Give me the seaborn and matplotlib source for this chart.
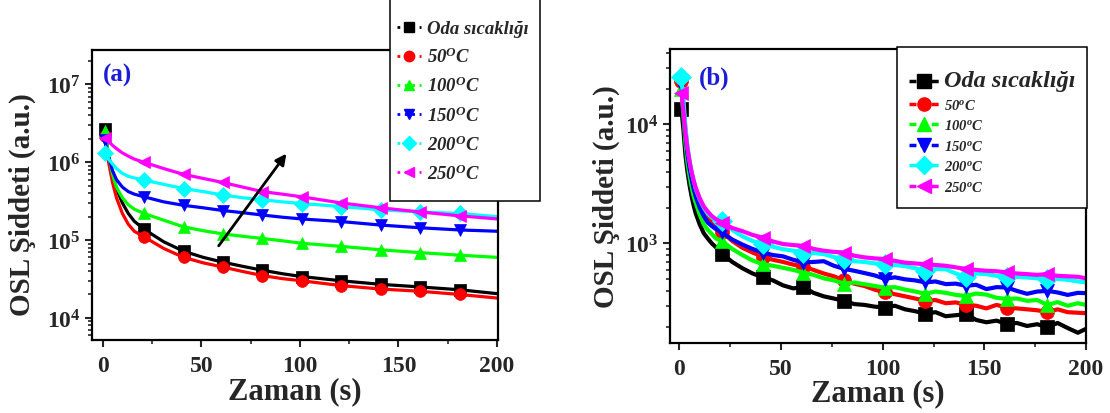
import numpy as np
import pandas as pd
import matplotlib
matplotlib.use('Agg')
import matplotlib.pyplot as plt
import seaborn as sns
from matplotlib.lines import Line2D
from matplotlib.patches import Rectangle
from matplotlib.ticker import MultipleLocator, LogLocator, FuncFormatter, NullFormatter

sns.set_style('ticks')
plt.rcParams['font.family'] = ['Liberation Serif', 'DejaVu Serif']
plt.rcParams['font.weight'] = 'bold'
plt.rcParams['axes.labelweight'] = 'bold'
plt.rcParams['mathtext.fontset'] = 'custom'
plt.rcParams['mathtext.rm'] = 'Liberation Serif:bold'
plt.rcParams['mathtext.bf'] = 'Liberation Serif:bold'
plt.rcParams['mathtext.it'] = 'Liberation Serif:bold:italic'

# ---- panel (a): fitted decay curves ----
time_a = [1, 3, 5, 7, 10, 13, 16, 21, 31, 41, 51, 61, 71, 81, 91, 101, 121, 141, 161, 181, 200]
oda_a = [2.7e6, 1.2e6, 7.0e5, 4.6e5, 3.0e5, 2.2e5, 1.75e5, 1.38e5, 9.5e4, 7.2e4, 6.0e4, 5.2e4, 4.6e4,
         4.1e4, 3.7e4, 3.4e4, 3.0e4, 2.7e4, 2.5e4, 2.3e4, 2.05e4]
c50_a = [2.2e6, 1.0e6, 5.5e5, 3.5e5, 2.2e5, 1.6e5, 1.3e5, 1.1e5, 7.8e4, 6.0e4, 5.1e4, 4.5e4, 3.95e4,
         3.5e4, 3.2e4, 3.0e4, 2.6e4, 2.35e4, 2.2e4, 2.0e4, 1.8e4]
c100_a = [2.5e6, 1.25e6, 7.0e5, 4.8e5, 3.5e5, 2.85e5, 2.5e5, 2.2e5, 1.8e5, 1.48e5, 1.32e5, 1.2e5, 1.12e5,
          1.05e5, 9.8e4, 9.1e4, 8.3e4, 7.5e4, 6.9e4, 6.4e4, 6.0e4]
c150_a = [1.95e6, 1.2e6, 7.8e5, 6.0e5, 4.8e5, 4.2e5, 3.9e5, 3.6e5, 3.1e5, 2.8e5, 2.6e5, 2.4e5, 2.25e5,
          2.1e5, 1.97e5, 1.87e5, 1.73e5, 1.56e5, 1.44e5, 1.35e5, 1.3e5]
c200_a = [1.3e6, 1.1e6, 9.5e5, 8.3e5, 7.2e5, 6.6e5, 6.3e5, 5.9e5, 5.2e5, 4.6e5, 4.2e5, 3.8e5, 3.5e5,
          3.3e5, 3.1e5, 2.95e5, 2.7e5, 2.45e5, 2.3e5, 2.2e5, 2.0e5]
c250_a = [2.05e6, 1.85e6, 1.65e6, 1.5e6, 1.32e6, 1.2e6, 1.1e6, 1.0e6, 8.3e5, 7.0e5, 6.2e5, 5.5e5, 4.8e5,
          4.2e5, 3.9e5, 3.6e5, 3.0e5, 2.6e5, 2.3e5, 2.05e5, 1.87e5]

# ---- panel (b): measured (noisy) decay curves ----
time_b = [1, 2, 3, 4, 5, 6, 7, 8, 10, 12, 14, 16, 18,
          21, 26, 31, 36, 41, 46, 51, 56, 61, 66, 71, 76, 81, 86, 91, 96, 101, 106, 111, 116,
          121, 126, 131, 136, 141, 146, 151, 156, 161, 166, 171, 176, 181, 186, 191, 196, 200]
oda_b = [1.36e4, 9.0e3, 5.5e3, 4.0e3, 3.1e3, 2.5e3, 2.1e3, 1.8e3, 1.45e3, 1.22e3, 1.1e3, 1.0e3, 930,
         820, 700, 620, 560, 520, 490, 445, 420, 430, 385, 360, 345, 330, 310, 305, 295, 290, 300,
         280, 270, 257, 265, 245, 250, 255, 228, 218, 225, 211, 215, 203, 210, 198, 215, 195, 178, 192]
c50_b = [2.3e4, 1.5e4, 9.0e3, 6.2e3, 4.8e3, 3.9e3, 3.3e3, 2.9e3, 2.3e3, 1.9e3, 1.65e3, 1.5e3, 1.38e3,
         1250, 1050, 920, 840, 775, 730, 700, 665, 640, 600, 560, 530, 490, 460, 440, 410, 390, 375,
         360, 345, 330, 335, 315, 320, 305, 300, 285, 305, 290, 285, 280, 275, 265, 280, 265, 262, 260]
c100_b = [2.0e4, 1.2e4, 7.0e3, 4.8e3, 3.7e3, 3.0e3, 2.5e3, 2.2e3, 1.75e3, 1.45e3, 1.3e3, 1.2e3, 1.1e3,
          1050, 900, 800, 720, 670, 650, 625, 600, 570, 545, 510, 490, 460, 470, 455, 440, 425, 430,
          410, 395, 378, 395, 385, 370, 362, 380, 372, 350, 342, 345, 330, 335, 305, 322, 300, 315, 305]
c150_b = [2.2e4, 1.4e4, 8.2e3, 5.6e3, 4.3e3, 3.5e3, 2.9e3, 2.5e3, 2.0e3, 1.7e3, 1.5e3, 1.4e3, 1.32e3,
          1240, 1080, 980, 900, 840, 800, 780, 730, 692, 700, 710, 650, 612, 590, 565, 540, 505, 520,
          500, 490, 471, 480, 456, 460, 441, 450, 414, 430, 427, 400, 378, 395, 400, 388, 370, 385, 383]
c200_b = [2.5e4, 1.6e4, 9.5e3, 6.5e3, 5.0e3, 4.0e3, 3.4e3, 2.9e3, 2.35e3, 2.0e3, 1.78e3, 1.65e3, 1.58e3,
          1550, 1300, 1150, 1050, 985, 940, 895, 870, 840, 830, 815, 770, 738, 710, 700, 680, 670, 660,
          645, 620, 590, 610, 608, 560, 520, 560, 553, 535, 520, 525, 518, 510, 502, 505, 495, 480, 472]
c250_b = [1.85e4, 1.3e4, 8.5e3, 6.2e3, 4.9e3, 4.0e3, 3.4e3, 2.95e3, 2.4e3, 2.05e3, 1.85e3, 1.7e3, 1.6e3,
          1500, 1350, 1270, 1180, 1120, 1040, 990, 970, 955, 900, 870, 850, 840, 790, 765, 750, 740, 715,
          690, 680, 670, 660, 650, 630, 612, 600, 590, 585, 572, 560, 553, 545, 553, 535, 530, 525, 510]

marker_times = [1, 21, 41, 61, 81, 101, 121, 141, 161, 181]

colors = ['#000000', '#ff0000', '#00ff00', '#0000ff', '#00ffff', '#ff00ff']
markers = ['s', 'o', '^', 'v', 'D', '<']
labels_a = ['Oda sıcaklığı', r'50$^{O}$C', r'100$^{O}$C', r'150$^{O}$C', r'200$^{O}$C', r'250$^{O}$C']
labels_b = ['Oda sıcaklığı', r'50$^{o}$C', r'100$^{o}$C', r'150$^{o}$C', r'200$^{o}$C', r'250$^{o}$C']

series_a = [oda_a, c50_a, c100_a, c150_a, c200_a, c250_a]
series_b = [oda_b, c50_b, c100_b, c150_b, c200_b, c250_b]

W, H = 1110, 414
fig = plt.figure(figsize=(W / 100, H / 100), dpi=100)
ax1 = fig.add_axes([92 / W, 1 - 341 / H, 405.7 / W, 290.3 / H])
ax2 = fig.add_axes([670 / W, 1 - 344 / H, 416 / W, 294 / H])


def draw_panel(ax, t, series, lw, ms):
    ax.set_yscale('log')
    idx = [i for i, v in enumerate(t) if v in marker_times]
    for vals, c, m in zip(series, colors, markers):
        df = pd.DataFrame({'t': t, 'v': vals})
        sns.lineplot(data=df, x='t', y='v', ax=ax, color=c, lw=lw, marker=m, markevery=idx,
                     markersize=ms, markeredgecolor=c, markeredgewidth=0.5, estimator=None)


draw_panel(ax1, time_a, series_a, 2.3, 8.5)
draw_panel(ax2, time_b, series_b, 3.0, 10)

ax1.set_xlim(-5.4, 200.3)
ax1.set_ylim(5.2e3, 2.8e7)
ax2.set_xlim(-4.6, 200)
ax2.set_ylim(146, 4.3e4)

fmt = FuncFormatter(lambda v, p: r'$\mathbf{10^{%d}}$' % int(round(np.log10(v))))
for ax in (ax1, ax2):
    ax.xaxis.set_major_locator(MultipleLocator(50))
    ax.xaxis.set_minor_locator(MultipleLocator(25))
    ax.yaxis.set_major_locator(LogLocator(base=10))
    ax.yaxis.set_minor_locator(LogLocator(base=10, subs=np.arange(2, 10)))
    ax.yaxis.set_major_formatter(fmt)
    ax.yaxis.set_minor_formatter(NullFormatter())
    ax.tick_params(which='major', direction='out', length=5, width=1.5, labelsize=17, pad=3)
    ax.tick_params(which='minor', direction='out', length=3, width=1.2)
    ax.tick_params(axis='x', which='major', pad=6)
    for s in ax.spines.values():
        s.set_linewidth(1.6)
        s.set_color('black')
    ax.set_xlabel('Zaman (s)', fontsize=22, labelpad=0)
    ax.set_ylabel('OSL Şiddeti (a.u.)', fontsize=21)

ax1.xaxis.set_label_coords(0.5, -0.125)
ax2.xaxis.set_label_coords(0.5, -0.12)
ax1.yaxis.set_label_coords(-0.137, 0.47)
ax2.yaxis.set_label_coords(-0.12, 0.5)

ax1.text(0.064, 0.916, '(a)', transform=ax1.transAxes, color='#1c1cd6', fontsize=18,
         fontweight='bold', ha='center', va='center')
ax2.text(0.107, 0.905, '(b)', transform=ax2.transAxes, color='#1c1cd6', fontsize=18,
         fontweight='bold', ha='center', va='center')

ax1.annotate('', xy=(94, 1.38e6), xytext=(58, 7.9e4),
             arrowprops=dict(arrowstyle='-|>', color='black', lw=2, mutation_scale=16))

# legend boxes drawn as white rectangles in figure coordinates
fig.patches.append(Rectangle((390 / W, 1 - 202 / H), 150 / W, 0.6, transform=fig.transFigure,
                             facecolor='white', edgecolor='black', lw=1.1, zorder=5))
fig.patches.append(Rectangle((897 / W, 1 - 209 / H), 190 / W, 161 / H, transform=fig.transFigure,
                             facecolor='white', edgecolor='black', lw=1.1, zorder=5))

h_a = [Line2D([], [], color=c, marker=m, ls=':', lw=2, markersize=7.5) for c, m in zip(colors, markers)]
leg_a = fig.legend(h_a, labels_a, loc='center left', bbox_to_anchor=(397 / W, 1 - 102.5 / H),
                   frameon=False, borderpad=0, borderaxespad=0, handlelength=1.3, handletextpad=0.3,
                   labelspacing=0.52, prop={'family': 'Liberation Serif', 'weight': 'bold',
                                            'style': 'italic', 'size': 13.5})
leg_a.set_zorder(6)

h_b = [Line2D([], [], color=c, marker=m, ls=(0, (2, 1.2)), lw=2.5, markersize=9.5)
       for c, m in zip(colors, markers)]
leg_b = fig.legend(h_b, labels_b, loc='center left', bbox_to_anchor=(909 / W, 1 - 133 / H),
                   frameon=False, borderpad=0, borderaxespad=0, handlelength=2.1, handletextpad=0.3,
                   labelspacing=0.45, prop={'family': 'Liberation Serif', 'weight': 'bold',
                                            'style': 'italic', 'size': 10.5})
leg_b.get_texts()[0].set_fontsize(17.5)
leg_b.set_zorder(6)

fig.savefig('out.png', dpi=100)
